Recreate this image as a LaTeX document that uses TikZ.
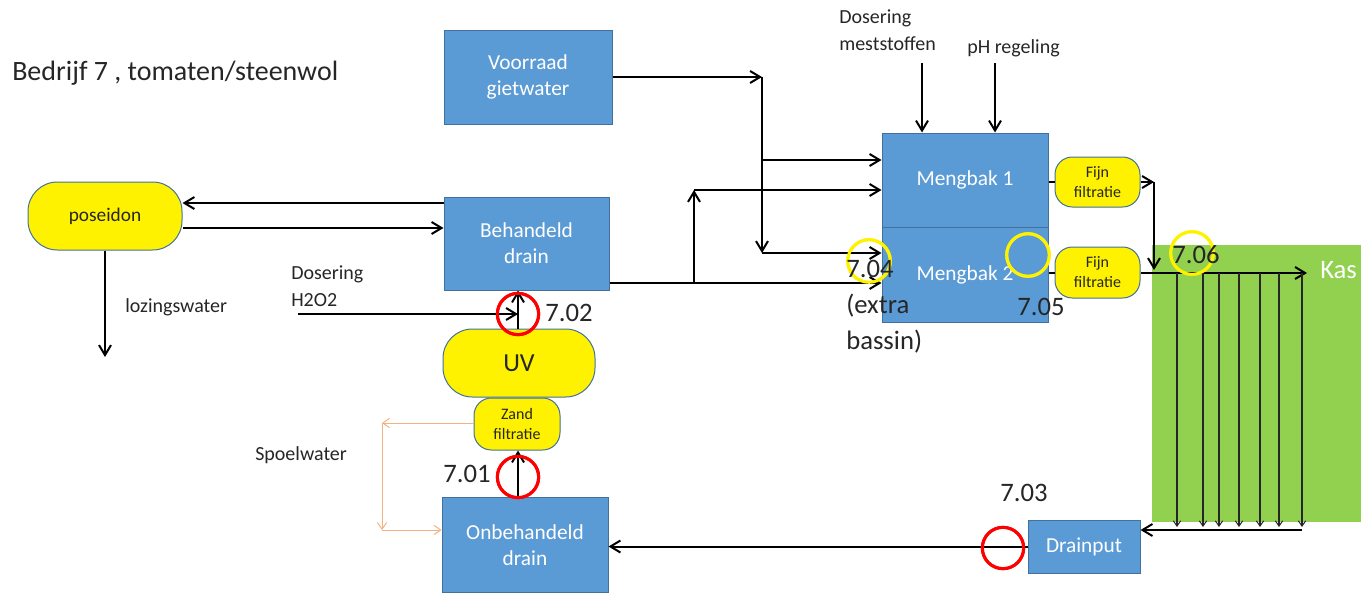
\documentclass[tikz,border=0pt]{standalone}
\usepackage{fontspec}
\setmainfont{Carlito}
\usetikzlibrary{arrows.meta}
\definecolor{boxblue}{HTML}{5B9BD5}
\definecolor{boxedge}{HTML}{41719C}
\definecolor{kasgreen}{HTML}{92D050}
\definecolor{spoelc}{HTML}{F4B183}
\definecolor{txt}{HTML}{262626}
\begin{document}
\begin{tikzpicture}[x=0.75pt,y=-0.75pt,
  bluebox/.style={draw=boxedge, fill=boxblue, line width=0.75pt, text=white, align=center,
    font=\fontsize{16}{19.5}\selectfont, inner sep=0pt},
  yelbox/.style={draw=boxedge, fill=yellow, line width=0.75pt, align=center, inner sep=0pt, text=txt},
  flow/.style={line width=1.5pt, -{Straight Barb[length=7.5pt,width=9pt,line width=1.5pt]}},
  plain/.style={line width=1.5pt},
  kasline/.style={line width=0.9pt, draw=black!85, -{Straight Barb[length=4pt,width=5.5pt,line width=0.75pt]}},
  spoel/.style={draw=spoelc, line width=0.75pt, -{Straight Barb[length=5pt,width=7pt,line width=0.75pt]}},
  redring/.style={circle, draw=red, line width=2.25pt, inner sep=0pt, minimum size=31pt},
  yelring/.style={circle, draw=yellow, line width=2.25pt, inner sep=0pt, minimum size=32pt},
  num/.style={font=\fontsize{20}{27}\selectfont, inner sep=0pt, text=txt, align=left},
  lab/.style={font=\fontsize{15}{20}\selectfont, inner sep=0pt, text=txt, align=left}]
\useasboundingbox (0,0) rectangle (1361,596);

% green greenhouse area
\node[fill=kasgreen, minimum width=156.75pt, minimum height=207.75pt, inner sep=0pt] (kas) at (1256.5,383.5) {};
\node[anchor=west, text=white, font=\fontsize{20}{24}\selectfont, inner sep=0pt] (kaslab) at (1320,270) {Kas};

% title
\node[anchor=west, inner sep=0pt, font=\fontsize{21}{25}\selectfont, text=txt] (title) at (12,73) {Bedrijf 7 , tomaten/steenwol};

% blue boxes
\node[bluebox, minimum width=126pt, minimum height=70.5pt] (voor) at (528,77) {Voorraad\\gietwater};
\node[bluebox, minimum width=123.75pt, minimum height=69.75pt] (beh) at (526.5,243.5) {Behandeld\\drain};
\node[bluebox, minimum width=124.5pt, minimum height=71.25pt] (onb) at (525,545) {Onbehandeld\\drain};
\node[bluebox, minimum width=124.5pt, minimum height=70.5pt] (mb1) at (965,180) {Mengbak 1};
\node[bluebox, minimum width=124.5pt, minimum height=71.25pt] (mb2) at (965,274.5) {Mengbak 2};
\node[bluebox, minimum width=84pt, minimum height=39.75pt] (dput) at (1084,546.5) {Drainput};

% yellow rounded boxes
\node[yelbox, rounded corners=22pt, minimum width=115.5pt, minimum height=51pt, font=\fontsize{14.5}{18}\selectfont] (pos) at (105,216) {poseidon};
\node[yelbox, rounded corners=22pt, minimum width=114pt, minimum height=51pt, font=\fontsize{19.5}{23}\selectfont] (uv) at (519,363) {UV};
\node[yelbox, rounded corners=13pt, minimum width=64.5pt, minimum height=39pt, font=\fontsize{12}{15}\selectfont] (zand) at (517,424) {Zand\\filtratie};
\node[yelbox, rounded corners=13pt, minimum width=63.75pt, minimum height=37.5pt, font=\fontsize{12}{15}\selectfont] (fijn1) at (1097.5,182) {Fijn\\filtratie};
\node[yelbox, rounded corners=13pt, minimum width=63.75pt, minimum height=38.25pt, font=\fontsize{12}{15}\selectfont] (fijn2) at (1097.5,272.5) {Fijn\\filtratie};

% labels
\node[lab, anchor=west] (loztxt) at (125,307) {lozingswater};
\node[lab, anchor=west] (h2txt) at (291,286) {Dosering\\H2O2};
\node[lab, anchor=west] (spoeltxt) at (255,455) {Spoelwater};
\node[lab, anchor=west] (dmtxt) at (839,30) {Dosering\\meststoffen};
\node[lab, anchor=west] (phtxt) at (967,48) {pH regeling};

% free ends / junctions
\coordinate (loz) at (105,357);
\coordinate (h2o2) at (298,314);
\coordinate (sp1) at (382,423);
\coordinate (sp2) at (382,530);
\coordinate (vj) at (762,77);
\coordinate (vd) at (762,253);
\coordinate (bj) at (694,283);
\coordinate (bu) at (694,190);
\coordinate (dm) at (922,63);
\coordinate (ph) at (995,63);
\coordinate (f1c) at (1154,182);
\coordinate (f1d) at (1154,270);
\coordinate (kasin) at (1307,273);
\coordinate (kb) at (1302,530);

% rings (as anchors for vertical flows)
\node[redring] (c702) at (518,314) {};
\node[redring] (c701) at (518,477) {};
\node[redring] (c703) at (1003,548) {};
\node[yelring] (c704) at (869,261) {};
\node[yelring] (c705) at (1028,255) {};
\node[yelring] (c706) at (1192,253) {};

% connectors
\draw[flow] (beh.west |- 0,203) -- (pos.east |- 0,203);
\draw[flow] (pos.east |- 0,228) -- (beh.west |- 0,228);
\draw[flow] (pos.south) -- (loz);
\draw[flow] (h2o2) -- (c702.center);
\draw[flow] (c702 |- uv.north) -- (c702 |- beh.south);
\draw[flow] (c701 |- onb.north) -- (c701 |- zand.south);
\draw[spoel] (zand.west |- sp1) -- (sp1);
\draw[spoel] (sp1) -- (sp2);
\draw[spoel] (sp2) -- (onb.west |- sp2);
\draw[flow] (dput.west) -- (onb.east |- dput.west);

\draw[flow] (voor.east) -- (vj);
\draw[flow] (vj) -- (vd);
\draw[flow] (vd) -- (mb2.west |- vd);
\draw[flow] (vj |- 0,160) -- (mb1.west |- 0,160);
\draw[flow] (beh.east |- bj) -- (mb2.west |- bj);
\draw[flow] (bj) -- (bu);
\draw[flow] (bu) -- (mb1.west |- bu);
\draw[flow] (dm) -- (dm |- mb1.north);
\draw[flow] (ph) -- (ph |- mb1.north);

\draw[plain] (mb1.east |- fijn1) -- (fijn1.west);
\draw[plain] (mb2.east |- fijn2) -- (fijn2.west);
\draw[flow] (fijn1.east) -- (f1c);
\draw[flow] (f1c) -- (f1d);
\draw[flow] (fijn2.east |- kasin) -- (kasin);
\foreach \x in {1177,1203,1219,1239,1260,1279,1302}
  \draw[kasline] (\x,273) -- (\x,527);
\draw[flow] (kb) -- (dput.east |- kb);

% redraw rings on top
\node[redring] at (c702) {};
\node[redring] at (c701) {};
\node[redring] at (c703) {};
\node[yelring] at (c704) {};
\node[yelring] at (c705) {};
\node[yelring] at (c706) {};

% measuring point numbers
\node[num, anchor=west] (t702) at (545,313) {7.02};
\node[num, anchor=west] (t701) at (443,474) {7.01};
\node[num, anchor=west] (t703) at (1000,493) {7.03};
\node[num, anchor=west] (t704) at (846,307) {7.04\\(extra\\bassin)};
\node[num, anchor=west] (t705) at (1017,307) {7.05};
\node[num, anchor=west] (t706) at (1172,255) {7.06};
\end{tikzpicture}
\end{document}
